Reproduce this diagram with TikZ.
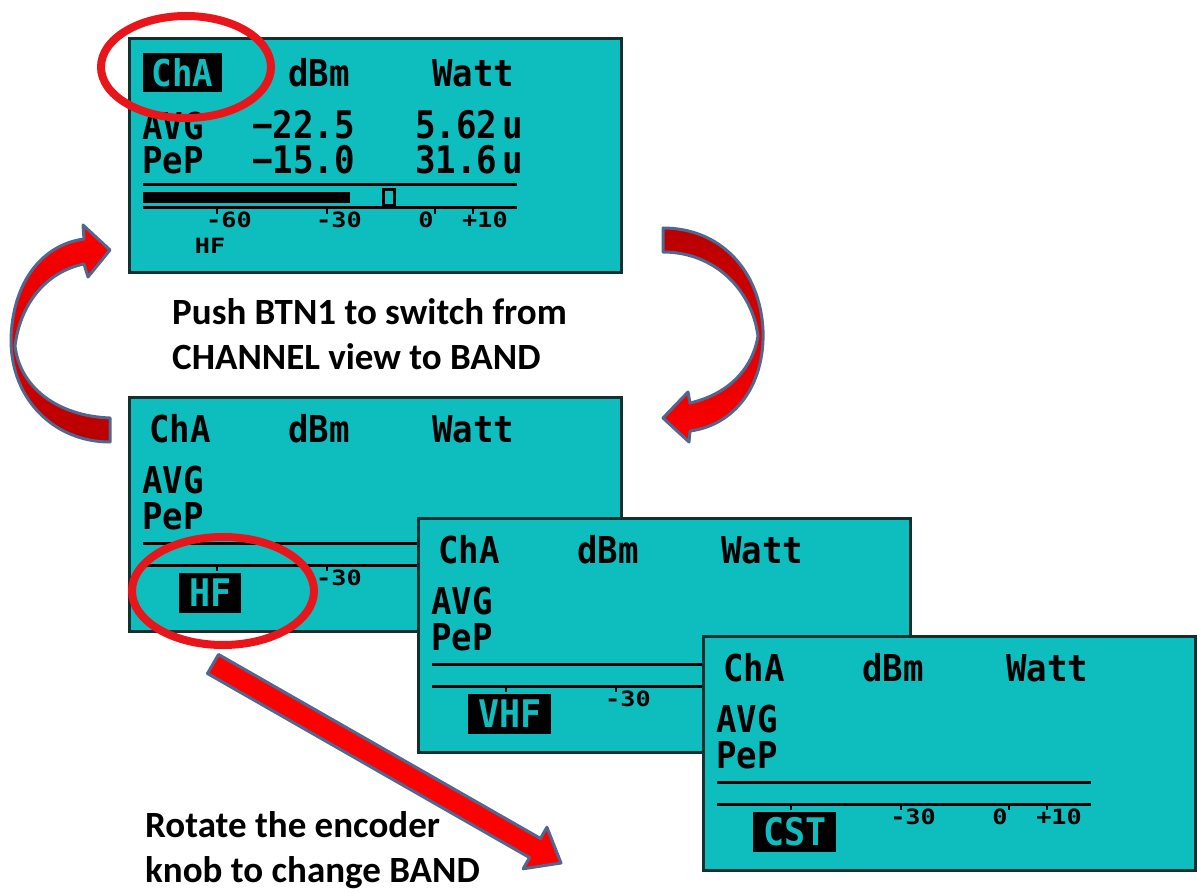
\documentclass[tikz,border=0pt]{standalone}
\usepackage{graphicx}
\usepackage{fontspec}
\setmainfont{Carlito}
\newfontfamily\lcdf{DejaVu Sans Mono}
\definecolor{lcdteal}{RGB}{14,190,190}
\definecolor{lcdborder}{RGB}{18,48,48}
\definecolor{ringred}{RGB}{232,22,26}
\definecolor{arrowedge}{RGB}{80,103,143}
\newcommand\lcdx[1]{\scalebox{0.92}[1]{#1}}
\newcommand\lcdn[1]{\scalebox{0.9}[1]{#1}}
\newcommand\lcds[1]{\scalebox{1.2}[1]{#1}}
\tikzset{
  panelbox/.style={draw=lcdborder, line width=3pt, fill=lcdteal, minimum width=492pt, minimum height=234pt, inner sep=0pt, outer sep=0pt, anchor=north west},
  lcdbig/.style={font=\lcdf\bfseries\fontsize{37}{37}\selectfont, inner sep=0pt, text=black},
  lcdnum/.style={font=\lcdf\bfseries\fontsize{38}{38}\selectfont, inner sep=0pt, text=black},
  lcdsmall/.style={font=\lcdf\bfseries\fontsize{21}{21}\selectfont, inner sep=0pt, text=black},
  bandbox/.style={fill=black, text=lcdteal, font=\lcdf\bfseries\fontsize{38}{38}\selectfont, inner xsep=10pt, inner ysep=0pt, minimum height=40pt, anchor=west},
  lcdline/.style={draw=black, line width=3pt},
  lcdtick/.style={draw=black, line width=2.5pt},
  redring/.style={draw=ringred, line width=8pt},
  curvarrow/.style={draw=arrowedge, line width=3pt, line join=round},
  caption/.style={font=\bfseries\fontsize{37}{45}\selectfont, inner sep=0pt, text=black, anchor=base west},
  pics/bandpanel/.style={code={
    \node[panelbox] (-box) at (0,0) {};
    \node[lcdbig] (-cha) at (51,32) {\lcdx{ChA}};
    \node[lcdbig] (-dbm) at (190,32) {\lcdx{dBm}};
    \node[lcdbig] (-watt) at (344,32) {\lcdx{Watt}};
    \node[lcdbig, anchor=west] (-avg) at (13,83) {\lcdx{AVG}};
    \node[lcdbig, anchor=west] (-pep) at (13,119) {\lcdx{PeP}};
    \draw[lcdline] (14,146) -- (388,146);
    \draw[lcdline] (14,168) -- (388,168);
    \draw[lcdtick] (88,168) -- (88,174);
    \draw[lcdtick] (198,168) -- (198,174);
    \draw[lcdtick] (306,168) -- (306,174);
    \draw[lcdtick] (344,168) -- (344,174);
    \node[lcdsmall] (-m30) at (210,181) {\lcds{-30}};
    \node[bandbox] (-band) at (50,196) {\lcdx{#1}};
  }}
}
\begin{document}
\begin{tikzpicture}[x=1pt, y=-1pt]
\useasboundingbox[fill=white] (0,0) rectangle (1197,893);

% ---- panel 1 (channel view)
\node[panelbox] (p1) at (129,39) {};
\node[lcdbig, fill=black, text=lcdteal, minimum width=79pt, minimum height=39pt] (p1cha) at (182.5,72.5) {\lcdx{ChA}};
\node[lcdbig] (p1dbm) at (319,73) {\lcdx{dBm}};
\node[lcdbig] (p1watt) at (473,73) {\lcdx{Watt}};
\node[lcdbig, anchor=west] (p1avg) at (142,126) {\lcdx{AVG}};
\node[lcdbig, anchor=west] (p1pep) at (142,160) {\lcdx{PeP}};
\node[lcdnum, anchor=base west] (p1avgdb) at (252,139) {\lcdn{−22.5}};
\node[lcdnum, anchor=base west] (p1pepdb) at (252,174) {\lcdn{−15.0}};
\node[lcdnum, anchor=base west] (p1avgw) at (415,139) {\lcdn{5.62}\hspace{5pt}\lcdn{u}};
\node[lcdnum, anchor=base west] (p1pepw) at (415,174) {\lcdn{31.6}\hspace{5pt}\lcdn{u}};
\draw[lcdline] (143,185) -- (517,185);
\draw[lcdline] (143,208) -- (517,208);
\fill[black] (143,192) rectangle (350,203);
\draw[black, line width=3pt, fill=lcdteal] (383,190) rectangle (394,206);
\draw[lcdtick] (217,208) -- (217,214);
\draw[lcdtick] (327,208) -- (327,214);
\draw[lcdtick] (435,208) -- (435,214);
\draw[lcdtick] (473,208) -- (473,214);
\node[lcdsmall] (p1m60) at (229,220) {\lcds{-60}};
\node[lcdsmall] (p1m30) at (339,220) {\lcds{-30}};
\node[lcdsmall] (p1zero) at (426,220) {\lcds{0}};
\node[lcdsmall] (p1p10) at (485,220) {\lcds{+10}};
\node[lcdsmall] (p1hf) at (210,246) {\lcds{HF}};
\draw[redring] (186,67) ellipse [x radius=85pt, y radius=51pt];

% ---- band view panels
\pic (p2) at (129,397) {bandpanel=HF};
\draw[redring] (223,591) ellipse [x radius=91pt, y radius=54pt];
\pic (p3) at (418,518) {bandpanel=VHF};
\pic (p4) at (703,636) {bandpanel=CST};
\node[lcdsmall] (p4zero) at (1000,817) {\lcds{0}};
\node[lcdsmall] (p4p10) at (1059,817) {\lcds{+10}};

% ---- curved arrow, left (up)
\path[curvarrow, top color=red, bottom color=red!72!black]
  (110,418) .. controls (58,416) and (20,388) .. (15,346)
  .. controls (20,305) and (45,272) .. (84,264)
  -- (88,277) -- (110,250) -- (83,225) -- (84,239)
  .. controls (40,245) and (12,285) .. (11,340)
  .. controls (11,400) and (55,442) .. (110,442)
  -- cycle;

% ---- curved arrow, right (down)
\path[curvarrow, top color=red!72!black, bottom color=red]
  (663,228) .. controls (720,228) and (760,270) .. (763,330)
  .. controls (765,385) and (735,425) .. (690,431)
  -- (689,442) -- (663,418) -- (688,392) -- (690,403)
  .. controls (725,395) and (752,372) .. (758,336)
  .. controls (752,290) and (715,252) .. (663,252)
  -- cycle;

% ---- straight arrow
\path[curvarrow, fill=red]
  (218.5,654.5) -- (540.5,838.5) -- (546.9,827.2) -- (561,863)
  -- (523.1,868.8) -- (529.6,857.6) -- (207.5,673.5) -- cycle;

% ---- captions
\node[caption] (push1) at (172,325) {Push BTN1 to switch from};
\node[caption] (push2) at (172,370) {CHANNEL view to BAND};
\node[caption] (rot1) at (145,837) {Rotate the encoder};
\node[caption] (rot2) at (145,882) {knob to change BAND};
\end{tikzpicture}
\end{document}
